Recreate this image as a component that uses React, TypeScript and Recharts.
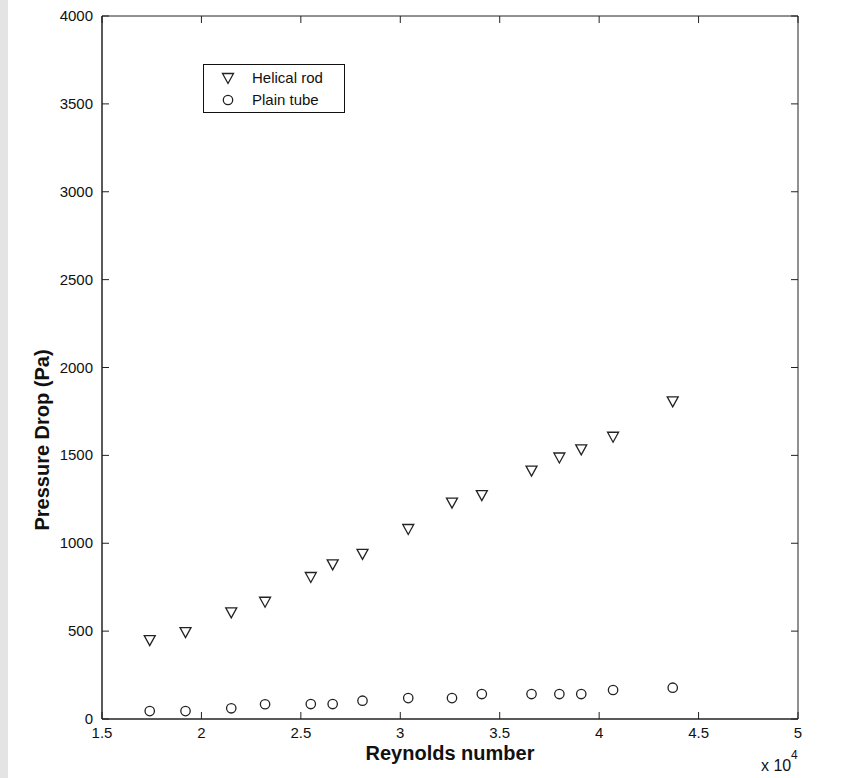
import {
  ScatterChart,
  Scatter,
  XAxis,
  YAxis,
  ReferenceArea
} from "recharts"

// Reynolds number, in units of 10^4
const reynolds = [1.74, 1.92, 2.15, 2.32, 2.55, 2.66, 2.81, 3.04, 3.26, 3.41, 3.66, 3.8, 3.91, 4.07, 4.37]
const helicalRod = [449, 494, 607, 667, 808, 880, 940, 1081, 1231, 1274, 1413, 1488, 1534, 1606, 1807]
const plainTube = [45, 45, 61, 84, 85, 85, 104, 119, 119, 142, 142, 142, 142, 165, 178]

const xTicks = [1.5, 2, 2.5, 3, 3.5, 4, 4.5, 5]
const yTicks = [0, 500, 1000, 1500, 2000, 2500, 3000, 3500, 4000]

const helicalData = reynolds.map((re, i) => ({ re, dp: helicalRod[i] }))
const plainData = reynolds.map((re, i) => ({ re, dp: plainTube[i] }))

const W = 841
const H = 778
const PLOT_LEFT = 102
const PLOT_RIGHT = 798
const PLOT_TOP = 16
const PLOT_BOTTOM = 719
const TICK = 7
const INK = "#222"
const FONT = "'Liberation Sans', Arial, Helvetica, sans-serif"

function TriangleDown({ cx, cy }: any) {
  if (cx == null || cy == null) return null
  return (
    <polygon
      points={`${cx - 5.5},${cy - 4.5} ${cx + 5.5},${cy - 4.5} ${cx},${cy + 5.5}`}
      fill="none"
      stroke={INK}
      strokeWidth={1.3}
    />
  )
}

function Ring({ cx, cy }: any) {
  if (cx == null || cy == null) return null
  return <circle cx={cx} cy={cy} r={4.7} fill="none" stroke={INK} strokeWidth={1.3} />
}

function XTick({ payload }: any) {
  const c = payload.coordinate
  return (
    <g>
      <line x1={c} x2={c} y1={PLOT_BOTTOM} y2={PLOT_BOTTOM - TICK} stroke={INK} />
      <line x1={c} x2={c} y1={PLOT_TOP} y2={PLOT_TOP + TICK} stroke={INK} />
      <text x={c} y={738} textAnchor="middle" fontSize={15} fontFamily={FONT} fill="#111">
        {payload.value}
      </text>
    </g>
  )
}

function YTick({ payload }: any) {
  const c = payload.coordinate
  return (
    <g>
      <line x1={PLOT_LEFT} x2={PLOT_LEFT + TICK} y1={c} y2={c} stroke={INK} />
      <line x1={PLOT_RIGHT} x2={PLOT_RIGHT - TICK} y1={c} y2={c} stroke={INK} />
      <text x={93} y={c + 5} textAnchor="end" fontSize={15} fontFamily={FONT} fill="#111">
        {payload.value}
      </text>
    </g>
  )
}

function LegendBox() {
  return (
    <div
      style={{
        position: "absolute",
        left: 203,
        top: 64,
        width: 140,
        height: 47,
        border: "1px solid #111",
        background: "white"
      }}
    >
      <svg width={140} height={47} style={{ display: "block" }}>
        <TriangleDown cx={24} cy={13} />
        <Ring cx={24} cy={35} />
        <text x={48} y={18} fontSize={15} fontFamily={FONT} fill="#111">Helical rod</text>
        <text x={48} y={40} fontSize={15} fontFamily={FONT} fill="#111">Plain tube</text>
      </svg>
    </div>
  )
}

export default function App() {
  return (
    <div style={{ position: "absolute", left: 0, top: 0, width: W, height: H, background: "white" }}>
      <div style={{ position: "absolute", left: 0, top: 0, width: 8, height: H, background: "#e4e4e4" }} />
      <ScatterChart
        width={W}
        height={H}
        margin={{ top: PLOT_TOP, right: W - PLOT_RIGHT, bottom: 29, left: 42 }}
      >
        <XAxis
          type="number"
          dataKey="re"
          domain={[1.5, 5]}
          ticks={xTicks}
          interval={0}
          height={30}
          allowDataOverflow
          axisLine={{ stroke: INK }}
          tickLine={false}
          tick={<XTick />}
          label={{
            content: () => (
              <g fontFamily={FONT} fill="#111">
                <text x={450} y={760} textAnchor="middle" fontSize={20} fontWeight="bold">
                  Reynolds number
                </text>
                <text x={761} y={771} fontSize={16}>x 10</text>
                <text x={791} y={759} fontSize={12}>4</text>
              </g>
            )
          }}
        />
        <YAxis
          type="number"
          dataKey="dp"
          domain={[0, 4000]}
          ticks={yTicks}
          interval={0}
          width={60}
          allowDataOverflow
          axisLine={{ stroke: INK }}
          tickLine={false}
          tick={<YTick />}
          label={{
            content: () => (
              <text
                x={49}
                y={440}
                transform="rotate(-90, 49, 440)"
                textAnchor="middle"
                fontFamily={FONT}
                fontSize={20}
                fontWeight="bold"
                fill="#111"
              >
                Pressure Drop (Pa)
              </text>
            )
          }}
        />
        <ReferenceArea x1={1.5} x2={5} y1={0} y2={4000} fill="none" stroke={INK} strokeWidth={1} ifOverflow="visible" />
        <Scatter name="Helical rod" data={helicalData} shape={<TriangleDown />} isAnimationActive={false} />
        <Scatter name="Plain tube" data={plainData} shape={<Ring />} isAnimationActive={false} />
      </ScatterChart>
      <LegendBox />
    </div>
  )
}
